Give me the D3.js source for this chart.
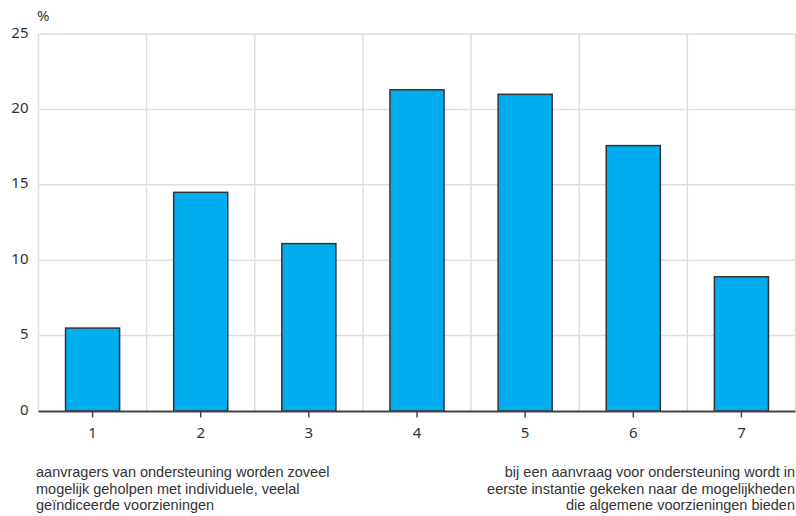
<!DOCTYPE html>
<html><head><meta charset="utf-8">
<script src="https://cdn.jsdelivr.net/npm/d3@7"></script>
<style>
html,body{margin:0;padding:0;background:#fff;}
svg{display:block;font-family:"Noto Sans","Open Sans",sans-serif;}
</style></head>
<body>
<svg id="chart" width="796" height="516"></svg>
<script>
const categories = ["1","2","3","4","5","6","7"];
const values = [5.5, 14.5, 11.1, 21.3, 21.0, 17.6, 8.9];
const yTicks = [0,5,10,15,20,25];
const yUnit = "%";
const noteLeft = ["aanvragers van ondersteuning worden zoveel","mogelijk geholpen met individuele, veelal","geïndiceerde voorzieningen"];
const noteRight = ["bij een aanvraag voor ondersteuning wordt in","eerste instantie gekeken naar de mogelijkheden","die algemene voorzieningen bieden"];

(function(){
const svg = d3.select("#chart");
const pL = 38.5, pR = 795.5, pT = 34, pB = 411;
const x = d3.scaleBand().domain(categories).range([pL, pR]).paddingInner(0.5).paddingOuter(0.25);
const xb = d3.scaleBand().domain(categories).range([pL, pR]);
const y = d3.scaleLinear().domain([0,25]).range([pB, pT]);

const grid = svg.append("g").attr("stroke","#dedede").attr("stroke-width",1.5);
yTicks.forEach(t => { if (t>0) grid.append("line").attr("x1",pL).attr("x2",pR).attr("y1",y(t)).attr("y2",y(t)); });
grid.append("line").attr("x1",pL).attr("x2",pL).attr("y1",pT).attr("y2",pB);
categories.forEach(c => grid.append("line").attr("x1",xb(c)+xb.bandwidth()).attr("x2",xb(c)+xb.bandwidth()).attr("y1",pT).attr("y2",pB));

svg.append("g").selectAll("rect").data(values).join("rect")
  .attr("x",(d,i)=>x(categories[i]))
  .attr("width",x.bandwidth())
  .attr("y",d=>y(d))
  .attr("height",d=>y(0)-y(d))
  .attr("fill","#00aeef").attr("stroke","#333").attr("stroke-width",1.5);

const ya = svg.append("g").attr("transform",`translate(${pL},0)`)
  .call(d3.axisLeft(y).tickValues(yTicks).tickSize(0).tickPadding(10));
ya.select(".domain").remove();
ya.selectAll("text").attr("font-size",15).attr("dy","0.2em").attr("fill","#333").attr("font-family","Noto Sans, Open Sans, sans-serif");

const xa = svg.append("g").attr("transform",`translate(0,${pB+0.5})`)
  .call(d3.axisBottom(x).tickSize(6).tickPadding(10));
xa.select(".domain").attr("d",`M${pL},0H${pR}`).attr("stroke","#444").attr("stroke-width",2);
xa.selectAll(".tick line").attr("stroke","#444").attr("stroke-width",1.5);
xa.selectAll("text").attr("font-size",15).attr("fill","#333").attr("font-family","Noto Sans, Open Sans, sans-serif");

svg.append("text").attr("x",37).attr("y",21).attr("font-size",15).attr("fill","#333").text(yUnit);

const noteFont = "Liberation Sans, Arial, sans-serif";
noteLeft.forEach((s,i)=>svg.append("text").attr("font-family",noteFont).attr("font-size",14.5).attr("fill","#333")
  .attr("x",36).attr("y",477+i*16.5).text(s));
noteRight.forEach((s,i)=>svg.append("text").attr("font-family",noteFont).attr("font-size",14.5).attr("fill","#333")
  .attr("text-anchor","end").attr("x",795).attr("y",477+i*16.5).text(s));
})();
</script>
</body></html>
